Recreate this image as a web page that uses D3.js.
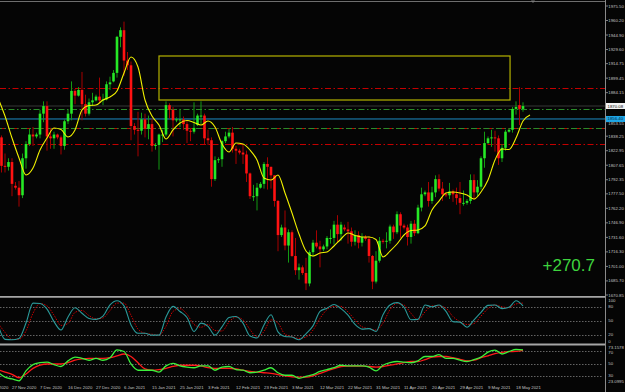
<!DOCTYPE html>
<html>
<head>
<meta charset="utf-8">
<script src="https://cdn.jsdelivr.net/npm/d3@7"></script>
<style>
html, body { margin: 0; padding: 0; background: #050505; overflow: hidden; }
svg { display: block; }
</style>
</head>
<body>
<script>
// daily bars, first one is bar -4 (bar 0 = 27 Nov 2020), sunday sessions included
const firstBar = -4;
const opens = [1871,1837,1807,1806,
  1811,1786,1784,1776,1815,1830,1840,1838,1840,1862,
  1870,1838,1836,1840,1837,1828,1854,1862,1886,1881,
  1887,1872,1862,1874,1876,1880,1876,1877,1893,1896,
  1905,1943,1950,1918,1913,1849,1845,1844,1856,1846,
  1851,1828,1829,1840,1840,1871,1866,1855,1856,1856,
  1851,1844,1843,1850,1860,1860,1836,1834,1793,1813,
  1814,1833,1838,1842,1825,1823,1821,1819,1799,1775,
  1775,1784,1788,1809,1806,1797,1770,1734,1742,1723,
  1737,1712,1697,1700,1694,1683,1716,1726,1722,1719,
  1722,1731,1731,1745,1735,1742,1740,1738,1727,1734,
  1726,1732,1730,1712,1685,1707,1728,1727,1728,1743,
  1737,1756,1744,1742,1732,1746,1736,1763,1777,1779,
  1770,1779,1793,1783,1777,1776,1780,1777,1773,1768,
  1768,1770,1792,1779,1785,1815,1831,1836,1837,1836,
  1815,1826,1843,1845,1867,1871,1867];
const highs = [1875,1839,1820,1815,
  1815,1790,1791,1820,1833,1846,1848,1842,1866,1875,
  1875,1847,1843,1841,1839,1856,1866,1896,1888,1890,
  1906,1882,1878,1884,1882,1900,1883,1896,1901,1908,
  1944,1953,1959,1927,1917,1852,1864,1863,1862,1860,
  1857,1831,1841,1845,1875,1873,1869,1858,1867,1859,
  1854,1847,1874,1862,1875,1862,1845,1837,1817,1816,
  1834,1843,1846,1848,1828,1825,1829,1823,1800,1787,
  1789,1790,1811,1816,1806,1797,1771,1745,1760,1740,
  1739,1731,1704,1702,1710,1718,1729,1739,1728,1724,
  1733,1740,1749,1755,1748,1745,1748,1742,1739,1738,
  1736,1734,1733,1713,1717,1732,1730,1737,1745,1745,
  1759,1758,1746,1745,1749,1750,1766,1784,1781,1790,
  1785,1797,1798,1790,1779,1789,1782,1784,1790,1781,
  1772,1798,1798,1792,1817,1843,1838,1845,1844,1839,
  1830,1845,1846,1869,1875,1890,1874];
const lows = [1830,1800,1800,1802,
  1775,1782,1764,1773,1804,1828,1828,1836,1836,1853,
  1823,1825,1825,1835,1819,1824,1851,1855,1872,1880,
  1855,1859,1860,1870,1875,1873,1871,1876,1887,1895,
  1900,1932,1902,1908,1834,1840,1817,1840,1837,1835,
  1822,1824,1803,1832,1838,1857,1838,1853,1848,1845,
  1831,1833,1841,1849,1851,1830,1829,1785,1791,1810,
  1806,1831,1836,1821,1809,1819,1809,1790,1772,1770,
  1760,1783,1783,1782,1783,1764,1717,1732,1718,1705,
  1711,1692,1687,1692,1676,1680,1711,1720,1700,1717,
  1719,1725,1724,1726,1728,1738,1725,1722,1723,1720,
  1722,1728,1705,1677,1683,1705,1725,1720,1725,1730,
  1735,1731,1740,1723,1725,1733,1735,1759,1775,1764,
  1767,1774,1780,1770,1774,1772,1769,1766,1756,1765,
  1766,1767,1771,1775,1782,1805,1830,1827,1822,1808,
  1811,1823,1842,1842,1861,1850,1864];
const closes = [1837,1807,1806,1811,
  1788,1784,1776,1815,1830,1840,1838,1840,1862,1870,
  1838,1836,1840,1837,1828,1854,1862,1886,1881,1887,
  1872,1862,1874,1876,1880,1876,1877,1893,1895,1905,
  1943,1950,1918,1913,1849,1845,1844,1856,1846,1851,
  1828,1829,1840,1840,1871,1866,1855,1856,1856,1851,
  1844,1843,1847,1860,1860,1836,1834,1793,1813,1814,
  1833,1838,1842,1825,1823,1821,1819,1799,1775,1775,
  1784,1788,1809,1806,1797,1770,1734,1742,1723,1737,
  1712,1697,1700,1694,1683,1716,1726,1722,1719,1722,
  1731,1731,1745,1735,1745,1740,1738,1727,1734,1726,
  1732,1730,1712,1685,1707,1728,1727,1728,1743,1737,
  1756,1744,1742,1732,1746,1736,1763,1777,1779,1770,
  1779,1793,1783,1777,1776,1780,1777,1773,1768,1768,
  1770,1792,1779,1785,1815,1831,1836,1837,1836,1815,
  1826,1843,1845,1867,1869,1867,1870];

// yellow moving average (shifted), read every 2 bars from bar -4
const maStart = -4, maStep = 2;
const maValues = [1878.5,1859.5,1836.3,1815.3,1797.3,1804.7,1823.7,1836.3,1846.9,1845.3,
  1837.4,1844.8,1865.9,1870.6,1871.1,1876.4,1879.6,1885.9,1904.9,1921.7,
  1911.2,1876.4,1859.5,1850.0,1835.3,1844.8,1852.2,1854.8,1852.7,1850.0,
  1854.3,1847.9,1830.0,1821.6,1831.1,1830.0,1823.7,1813.2,1794.2,1792.1,
  1797.3,1778.4,1757.3,1735.1,1717.2,1712.0,1715.1,1716.2,1722.5,1729.9,
  1736.2,1733.6,1732.0,1732.0,1729.4,1710.9,1717.2,1724.6,1734.1,1738.8,
  1739.4,1743.6,1760.5,1769.9,1778.4,1779.4,1778.4,1776.3,1772.0,1779.4,
  1792.1,1813.2,1824.8,1824.2,1836.3,1854.3,1860.6];

// oscillators, read every 2 bars from bar -4
const oscStart = -4, oscStep = 2;
const stochMain = [41,10,9,12,45,88,87,75,48,30,58,78,66,55,53,60,84,93,82,41,
  23,23,19,19,58,81,70,57,27,45,38,19,37,57,59,45,17,13,41,63,
  26,16,15,9,22,39,70,77,85,76,62,42,32,33,27,63,84,89,79,52,
  53,84,80,84,70,48,47,36,52,68,83,84,76,79,93,82];
const stochSignal = [45,25,10,10,28,66,87,82,62,40,44,68,72,61,54,56,72,88,88,62,
  32,23,21,19,38,70,76,64,42,36,42,29,28,47,58,52,31,15,27,52,
  45,21,16,12,15,30,55,74,81,81,69,52,37,33,30,45,74,87,84,66,
  52,69,82,82,77,59,48,42,44,60,76,84,80,78,86,88];
const rsiValues = [37,29,26,23.1,39,49,52,53,49,46,55,61,59,56,59,56,60,72.5,70,50,
  40,40,40,37,47,51,47,45,44,47,47,40,45,46,41,40,36,37,40,44,
  36,32,32,27,30,33,38,41,44,48,47,47,47,45,39,48,52,54,53,52,
  55,62,62,65,59,59,56,54,57,61,69,72,66,70,73.16,72.6];
const rsiAverage = [41,37,33.5,28,34,43,48,50,50,50,52,56,58,59,59,59,60,63,66,62,
  52,42,40,41,43,46,48,48,48,47,44,43,43,43,42,40,38,37,36,35,
  33,31,29.5,29,29,31,35,39,42.5,46,46.6,46.8,46.5,46,45,46,48,50,52,54,
  54,57,61,62,62,60,57.5,55,56,60,63,66.5,68.6,69.7,70,71.8];

// axis labels
const priceTicks = [1975.50,1960.20,1944.90,1929.60,1914.75,1899.45,1884.15,1868.85,1853.55,1838.25,
  1822.95,1807.65,1792.35,1777.50,1762.20,1746.90,1731.60,1716.30,1701.00,1685.70,1670.85];
const dateLabels = ['17 Nov 2020','27 Nov 2020','7 Dec 2020','16 Dec 2020','27 Dec 2020','6 Jan 2021',
  '15 Jan 2021','25 Jan 2021','3 Feb 2021','12 Feb 2021','23 Feb 2021','3 Mar 2021','12 Mar 2021',
  '22 Mar 2021','31 Mar 2021','11 Apr 2021','20 Apr 2021','29 Apr 2021','9 May 2021','18 May 2021'];
const dateBars = [-8,0,8,16,24,32,40,48,56,64,72,80,88,96,104,112,120,128,136,144];
const stochTicks = [100,80,50,20,0];
const rsiLevels = [70,50,30];
const rsiRange = [23.0995,73.1578];

// drawn objects
const redLevels = [1888.7,1846.9,1829.7];
const greenLevels = [1866.9,1846.9];
const blueLevel = 1856.4;
const bidPrice = 1870.08;
const zoneBars = [42,142.3];
const zonePrices = [1876.4,1922.8];
const profitText = '+270.7';

const W = 625, H = 392, axisX = 605;
const font = 'Liberation Sans, Arial, sans-serif';

const svg = d3.select('body').append('svg')
  .attr('width', W).attr('height', H)
  .style('background', '#050505');

const x = d3.scaleLinear().domain([0, 144]).range([12, 516]);
const y = d3.scaleLinear().domain([1670.85, 1975.5]).range([295, 6]);
const yS = d3.scaleLinear().domain([0, 100]).range([344, 297.5]);
const yR = d3.scaleLinear().domain(rsiRange).range([380.8, 349.5]);

const defs = svg.append('defs');
defs.append('clipPath').attr('id', 'main').append('rect')
  .attr('x', 0).attr('y', 2).attr('width', axisX).attr('height', 294);
defs.append('clipPath').attr('id', 'sto').append('rect')
  .attr('x', 0).attr('y', 298).attr('width', axisX).attr('height', 46);
defs.append('clipPath').attr('id', 'rsi').append('rect')
  .attr('x', 0).attr('y', 346).attr('width', axisX).attr('height', 36);

const main = svg.append('g').attr('clip-path', 'url(#main)');

// horizontal levels
main.append('line').attr('x1', 0).attr('x2', axisX)
  .attr('y1', y(bidPrice)).attr('y2', y(bidPrice))
  .attr('stroke', '#262626').attr('stroke-width', 1.6);
main.append('line').attr('x1', 0).attr('x2', axisX)
  .attr('y1', y(blueLevel)).attr('y2', y(blueLevel))
  .attr('stroke', '#1e8cc4').attr('stroke-width', 1);
main.selectAll('.rl').data(redLevels).enter().append('line')
  .attr('x1', 0).attr('x2', axisX)
  .attr('y1', d => Math.round(y(d)) + 0.5).attr('y2', d => Math.round(y(d)) + 0.5)
  .attr('stroke', '#c40000').attr('stroke-width', 1)
  .attr('stroke-dasharray', '6,2.5,1.5,2.5');
main.selectAll('.gl').data(greenLevels).enter().append('line')
  .attr('x1', 0).attr('x2', axisX)
  .attr('y1', d => Math.round(y(d)) + 0.5).attr('y2', d => Math.round(y(d)) + 0.5)
  .attr('stroke', '#2a8c2a').attr('stroke-width', 1)
  .attr('stroke-dasharray', '6,2.5,1.5,2.5').attr('stroke-dashoffset', 4);

// zone rectangle
main.append('rect')
  .attr('x', x(zoneBars[0])).attr('y', y(zonePrices[1]))
  .attr('width', x(zoneBars[1]) - x(zoneBars[0]))
  .attr('height', y(zonePrices[0]) - y(zonePrices[1]))
  .attr('fill', 'none').attr('stroke', '#b5b300').attr('stroke-width', 1.2);

// candles
const bars = opens.map((o, i) => ({k: firstBar + i, o, h: highs[i], l: lows[i], c: closes[i]}));
const cg = main.selectAll('.bar').data(bars).enter().append('g');
cg.append('line')
  .attr('x1', d => x(d.k)).attr('x2', d => x(d.k))
  .attr('y1', d => y(d.h)).attr('y2', d => y(d.l))
  .attr('stroke', d => d.c >= d.o ? '#139a13' : '#a80000').attr('stroke-width', 1);
cg.append('rect')
  .attr('x', d => x(d.k) - 1.3).attr('width', 2.6)
  .attr('y', d => y(Math.max(d.o, d.c)))
  .attr('height', d => Math.max(1, Math.abs(y(d.o) - y(d.c))))
  .attr('fill', d => d.c >= d.o ? '#26e826' : '#ff1212');

// moving average
const maLine = d3.line()
  .x((d, i) => x(maStart + i * maStep)).y(d => y(d))
  .curve(d3.curveMonotoneX);
main.append('path').datum(maValues).attr('d', maLine)
  .attr('fill', 'none').attr('stroke', '#f2f200').attr('stroke-width', 1.1);

// profit text
svg.append('text').attr('x', 542.5).attr('y', 270.5)
  .attr('font-family', font).attr('font-size', 17).attr('fill', '#3ed43e')
  .text(profitText);

// frames
svg.append('line').attr('x1', 0).attr('x2', axisX).attr('y1', 1.5).attr('y2', 1.5)
  .attr('stroke', '#6e6e6e').attr('stroke-width', 1);
svg.append('path').attr('d', 'M531,0.5 L535,0.5 L533,3 Z').attr('fill', '#7a7a7a');
[296.8, 344.5].forEach(v => {
  svg.append('line').attr('x1', 0).attr('x2', axisX).attr('y1', v).attr('y2', v)
    .attr('stroke', '#a6a6a6').attr('stroke-width', 1.8);
});
svg.append('line').attr('x1', axisX + 0.5).attr('x2', axisX + 0.5).attr('y1', 0).attr('y2', H)
  .attr('stroke', '#8a8a8a').attr('stroke-width', 1);

// stochastic panel
const sto = svg.append('g').attr('clip-path', 'url(#sto)');
sto.selectAll('.sl').data([80, 50, 20]).enter().append('line')
  .attr('x1', 0).attr('x2', axisX - 2)
  .attr('y1', d => Math.round(yS(d)) + 0.5).attr('y2', d => Math.round(yS(d)) + 0.5)
  .attr('stroke', '#7c7c7c').attr('stroke-width', 0.8).attr('stroke-dasharray', '1.5,1.5');
const oscX = (d, i) => x(oscStart + i * oscStep);
sto.append('path').datum(stochSignal)
  .attr('d', d3.line().x(oscX).y(d => yS(d)).curve(d3.curveMonotoneX))
  .attr('fill', 'none').attr('stroke', '#c80000').attr('stroke-width', 1)
  .attr('stroke-dasharray', '1.5,1.2');
sto.append('path').datum(stochMain)
  .attr('d', d3.line().x(oscX).y(d => yS(d)).curve(d3.curveMonotoneX))
  .attr('fill', 'none').attr('stroke', '#2b9a9a').attr('stroke-width', 1.1);

// rsi panel
const rsi = svg.append('g').attr('clip-path', 'url(#rsi)');
rsi.selectAll('.rlv').data(rsiLevels).enter().append('line')
  .attr('x1', 0).attr('x2', axisX - 2)
  .attr('y1', d => Math.round(yR(d)) + 0.5).attr('y2', d => Math.round(yR(d)) + 0.5)
  .attr('stroke', '#7c7c7c').attr('stroke-width', 0.8).attr('stroke-dasharray', '1.5,1.5');
rsi.append('path').datum(rsiAverage)
  .attr('d', d3.line().x(oscX).y(d => yR(d)).curve(d3.curveMonotoneX))
  .attr('fill', 'none').attr('stroke', '#ff1a1a').attr('stroke-width', 1.3);
rsi.append('path').datum(rsiValues)
  .attr('d', d3.line().x(oscX).y(d => yR(d)).curve(d3.curveMonotoneX))
  .attr('fill', 'none').attr('stroke', '#3cf03c').attr('stroke-width', 1.3);

// right axis labels
const lab = svg.append('g').attr('font-family', font).attr('font-size', 4.3).attr('fill', '#c4c4c4');
priceTicks.forEach(p => {
  // the tick just under the blue marker is nudged down so both stay readable
  const nudge = Math.abs(y(p) - y(blueLevel)) < 5 ? 2 : 0;
  lab.append('line').attr('x1', axisX + 1).attr('x2', axisX + 3)
    .attr('y1', y(p)).attr('y2', y(p)).attr('stroke', '#a0a0a0').attr('stroke-width', 0.8);
  lab.append('text').attr('x', 608.3).attr('y', y(p) + nudge).attr('dy', '0.35em').text(p.toFixed(2));
});
stochTicks.forEach(v => {
  const yy = Math.min(341.6, Math.max(300.6, yS(v)));
  lab.append('text').attr('x', 608.3).attr('y', yy).attr('dy', '0.35em').text(v);
});
lab.append('text').attr('x', 608.3).attr('y', yR(70) + 1).attr('dy', '0.35em').text(70);
lab.append('text').attr('x', 608.3).attr('y', yR(50)).attr('dy', '0.35em').text(50);
lab.append('text').attr('x', 608.3).attr('y', yR(30) - 1).attr('dy', '0.35em').text(30);
lab.append('text').attr('x', 608.3).attr('y', yR(rsiRange[1]) - 2.2).attr('dy', '0.35em')
  .text(rsiRange[1].toFixed(4));
lab.append('text').attr('x', 608.3).attr('y', yR(rsiRange[0]) + 0.6).attr('dy', '0.35em')
  .text(rsiRange[0].toFixed(4));

// price markers on axis
lab.append('rect').attr('x', 606).attr('y', y(bidPrice) - 3).attr('width', 19).attr('height', 6)
  .attr('fill', '#f4f4f4');
lab.append('text').attr('x', 607.5).attr('y', y(bidPrice)).attr('dy', '0.35em')
  .attr('fill', '#111').text(bidPrice.toFixed(2));
lab.append('rect').attr('x', 606).attr('y', y(blueLevel) - 3).attr('width', 19).attr('height', 6)
  .attr('fill', '#1ea6e6');
lab.append('text').attr('x', 607.5).attr('y', y(blueLevel)).attr('dy', '0.35em')
  .attr('fill', '#06223a').text(blueLevel.toFixed(2));

// dates
dateLabels.forEach((t, i) => {
  lab.append('text').attr('x', x(dateBars[i])).attr('y', 388.8).text(t);
});
</script>
</body>
</html>
